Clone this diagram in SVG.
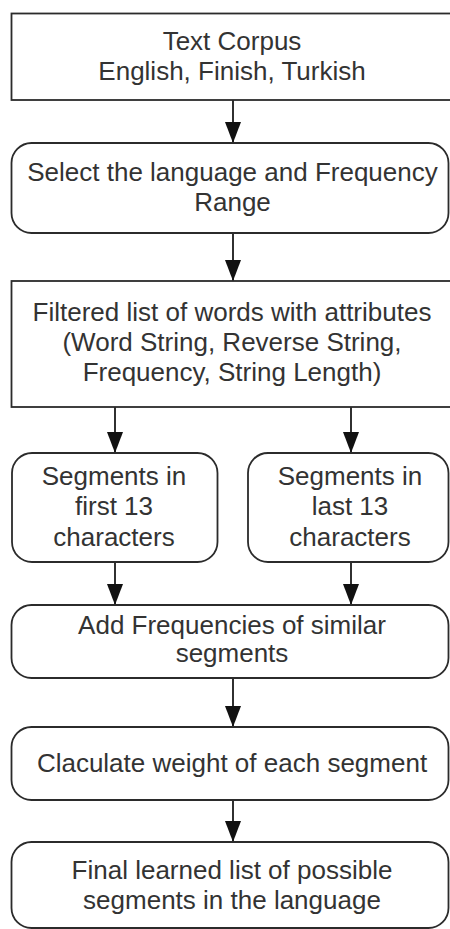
<svg xmlns="http://www.w3.org/2000/svg" width="450" height="929" viewBox="0 0 450 929">
  <style>
    .box { fill: #ffffff; stroke: #2b2b2b; stroke-width: 1.8; }
    .lbl { font-family: "Liberation Sans", Arial, sans-serif; font-size: 26px; fill: #333333; text-anchor: middle; }
    .edge { stroke: #1a1a1a; stroke-width: 1.8; fill: none; marker-end: url(#arrow); }
  </style>
  <defs>
    <marker id="arrow" markerUnits="userSpaceOnUse" markerWidth="22" markerHeight="17" refX="21" refY="8" orient="auto">
      <path d="M0,0 L21,8 L0,16 z" fill="#111111"/>
    </marker>
  </defs>
  <rect width="450" height="929" fill="#ffffff"/>

  <g id="connectors">
    <line class="edge" x1="233" y1="100" x2="233" y2="143"/>
    <line class="edge" x1="233" y1="233" x2="233" y2="281"/>
    <line class="edge" x1="115" y1="407" x2="115" y2="453"/>
    <line class="edge" x1="351" y1="407" x2="351" y2="453"/>
    <line class="edge" x1="115" y1="562" x2="115" y2="605"/>
    <line class="edge" x1="351" y1="562" x2="351" y2="605"/>
    <line class="edge" x1="233" y1="678" x2="233" y2="727"/>
    <line class="edge" x1="233" y1="800" x2="233" y2="842"/>
  </g>

  <g id="corpus">
    <rect class="box" x="11.5" y="13.5" width="450" height="86.5"/>
    <text class="lbl" x="232" y="49.5">Text Corpus</text>
    <text class="lbl" x="232" y="79.5">English, Finish, Turkish</text>
  </g>

  <g id="select">
    <rect class="box" x="11.5" y="143" width="437" height="90" rx="20" ry="20"/>
    <text class="lbl" x="232.5" y="181">Select the language and Frequency</text>
    <text class="lbl" x="232.5" y="211">Range</text>
  </g>

  <g id="filtered">
    <rect class="box" x="11.5" y="281" width="450" height="126"/>
    <text class="lbl" x="232" y="320.5">Filtered list of words with attributes</text>
    <text class="lbl" x="232" y="350.5">(Word String, Reverse String,</text>
    <text class="lbl" x="232" y="380.5">Frequency, String Length)</text>
  </g>

  <g id="first13">
    <rect class="box" x="12" y="453" width="205.5" height="109" rx="20" ry="20"/>
    <text class="lbl" x="114" y="485">Segments in</text>
    <text class="lbl" x="114" y="515">first 13</text>
    <text class="lbl" x="114" y="545.5">characters</text>
  </g>

  <g id="last13">
    <rect class="box" x="248" y="453" width="200.5" height="109" rx="20" ry="20"/>
    <text class="lbl" x="350" y="485">Segments in</text>
    <text class="lbl" x="350" y="515">last 13</text>
    <text class="lbl" x="350" y="545.5">characters</text>
  </g>

  <g id="addfreq">
    <rect class="box" x="11.5" y="605" width="437" height="73" rx="20" ry="20"/>
    <text class="lbl" x="232" y="634">Add Frequencies of similar</text>
    <text class="lbl" x="232" y="662">segments</text>
  </g>

  <g id="weight">
    <rect class="box" x="11.5" y="727" width="437" height="73" rx="20" ry="20"/>
    <text class="lbl" x="232" y="772">Claculate weight of each segment</text>
  </g>

  <g id="final">
    <rect class="box" x="11.5" y="842" width="437" height="86" rx="20" ry="20"/>
    <text class="lbl" x="232" y="878.5">Final learned list of possible</text>
    <text class="lbl" x="232" y="908.5">segments in the language</text>
  </g>
</svg>
